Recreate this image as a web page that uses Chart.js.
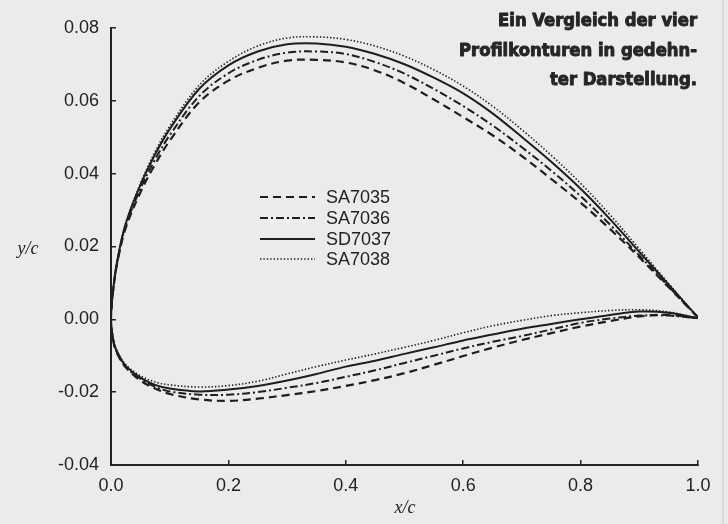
<!DOCTYPE html>
<html><head><meta charset="utf-8">
<script src="https://cdn.jsdelivr.net/npm/chart.js@4.4.0/dist/chart.umd.min.js"></script>
<style>
html,body{margin:0;padding:0;background:#ebebeb;}
canvas{display:block;}
</style></head><body>
<canvas id="c" width="728" height="524"></canvas>
<script>
// ---- data ----
const names = ["SA7035", "SA7036", "SD7037", "SA7038"];
// upper surface, trailing edge -> leading edge
const xUpper = [1.0, 0.95, 0.9, 0.85, 0.8, 0.75, 0.7, 0.65, 0.6, 0.55, 0.5, 0.45, 0.4, 0.35, 0.3, 0.25, 0.2, 0.15, 0.1, 0.075, 0.05, 0.025, 0.0125, 0.005, 0.0];
// lower surface, leading edge -> trailing edge
const xLower = [0.005, 0.0125, 0.025, 0.05, 0.075, 0.1, 0.15, 0.2, 0.25, 0.3, 0.35, 0.4, 0.45, 0.5, 0.55, 0.6, 0.65, 0.7, 0.75, 0.8, 0.85, 0.9, 0.95, 1.0];

const sa7035Upper = [0.0005, 0.0088, 0.0170, 0.0248, 0.0320, 0.0385, 0.0448, 0.0505, 0.0555, 0.0603, 0.0648, 0.0683, 0.0705, 0.0712, 0.0710, 0.0690, 0.0655, 0.0595, 0.0490, 0.0425, 0.0348, 0.0250, 0.0170, 0.0097, 0.0];
const sa7036Upper = [0.0005, 0.0090, 0.0175, 0.0260, 0.0338, 0.0408, 0.0472, 0.0532, 0.0585, 0.0632, 0.0674, 0.0706, 0.0728, 0.0735, 0.0732, 0.0712, 0.0675, 0.0612, 0.0505, 0.0438, 0.0358, 0.0255, 0.0172, 0.0098, 0.0];
const sd7037Upper = [0.0005, 0.0095, 0.0185, 0.0275, 0.0358, 0.0432, 0.0500, 0.0565, 0.0620, 0.0663, 0.0700, 0.0728, 0.0748, 0.0757, 0.0755, 0.0735, 0.0697, 0.0632, 0.0522, 0.0452, 0.0368, 0.0262, 0.0176, 0.0100, 0.0];
const sa7038Upper = [0.0005, 0.0098, 0.0193, 0.0287, 0.0373, 0.0450, 0.0520, 0.0585, 0.0640, 0.0685, 0.0722, 0.0750, 0.0768, 0.0775, 0.0772, 0.0750, 0.0708, 0.0642, 0.0530, 0.0460, 0.0372, 0.0264, 0.0177, 0.0100, 0.0];

const sa7035Lower = [-0.0068, -0.0100, -0.0132, -0.0168, -0.0190, -0.0205, -0.0220, -0.0224, -0.0218, -0.0208, -0.0197, -0.0183, -0.0167, -0.0148, -0.0125, -0.0101, -0.0078, -0.0057, -0.0038, -0.0020, -0.0005, 0.0008, 0.0012, 0.0003];
const sa7036Lower = [-0.0067, -0.0098, -0.0130, -0.0163, -0.0185, -0.0198, -0.0207, -0.0207, -0.0200, -0.0188, -0.0175, -0.0158, -0.0140, -0.0120, -0.0100, -0.0080, -0.0062, -0.0046, -0.0028, -0.0010, 0.0002, 0.0010, 0.0010, 0.0003];
const sd7037Lower = [-0.0066, -0.0096, -0.0128, -0.0160, -0.0180, -0.0190, -0.0198, -0.0193, -0.0183, -0.0168, -0.0150, -0.0130, -0.0114, -0.0095, -0.0077, -0.0058, -0.0042, -0.0026, -0.0013, 0.0000, 0.0012, 0.0021, 0.0018, 0.0003];
const sa7038Lower = [-0.0065, -0.0094, -0.0124, -0.0155, -0.0172, -0.0180, -0.0186, -0.0182, -0.0170, -0.0150, -0.0130, -0.0112, -0.0095, -0.0077, -0.0058, -0.0037, -0.0018, -0.0003, 0.0010, 0.0018, 0.0024, 0.0026, 0.0020, 0.0003];

const xTickLabels = ["0.0", "0.2", "0.4", "0.6", "0.8", "1.0"];
const yTickLabels = ["-0.04", "-0.02", "0.00", "0.02", "0.04", "0.06", "0.08"];
const titleLines = ["Ein Vergleich der vier", "Profilkonturen in gedehn-", "ter Darstellung."];

// ---- build ----
function contour(up, lo) {
  const pts = xUpper.map((x, i) => ({x: x, y: up[i]}));
  return pts.concat(xLower.map((x, i) => ({x: x, y: lo[i]})));
}
const INK = '#1e1e1e';
const styles = [
  {borderDash: [8, 5], borderWidth: 2.2},
  {borderDash: [8, 3, 2, 3], borderWidth: 2},
  {borderDash: [], borderWidth: 2},
  {borderDash: [1.4, 2], borderWidth: 1.6}
];
const uppers = [sa7035Upper, sa7036Upper, sd7037Upper, sa7038Upper];
const lowers = [sa7035Lower, sa7036Lower, sd7037Lower, sa7038Lower];
const datasets = names.map((n, i) => Object.assign({
  label: n,
  data: contour(uppers[i], lowers[i]),
  showLine: true,
  pointRadius: 0,
  borderColor: INK,
  tension: 0.35,
  fill: false
}, styles[i]));

const extras = {
  id: 'extras',
  afterDraw(chart) {
    const ctx = chart.ctx;
    ctx.save();
    // right edge stripe of the scan
    ctx.fillStyle = '#d9d9d9';
    ctx.fillRect(722, 0, 2, 524);
    // axis titles
    ctx.fillStyle = '#222';
    ctx.font = 'italic 18px "Liberation Serif", serif';
    ctx.textAlign = 'center';
    ctx.textBaseline = 'middle';
    ctx.fillText('y/c', 28, 249);
    ctx.fillText('x/c', 405, 508);
    // legend
    const lx0 = 260, lx1 = 315, tx = 326;
    const rows = [197, 218, 239, 259];
    chart.data.datasets.forEach((ds, i) => {
      ctx.save();
      ctx.strokeStyle = ds.borderColor;
      ctx.lineWidth = ds.borderWidth;
      ctx.setLineDash(ds.borderDash);
      ctx.beginPath();
      ctx.moveTo(lx0, rows[i]);
      ctx.lineTo(lx1, rows[i]);
      ctx.stroke();
      ctx.restore();
      ctx.fillStyle = '#222';
      ctx.font = '18px "Liberation Sans", Arial, sans-serif';
      ctx.textAlign = 'left';
      ctx.textBaseline = 'middle';
      ctx.fillText(ds.label, tx, rows[i] + 1);
    });
    // title block (right aligned, heavy condensed)
    ctx.font = 'bold 18px "DejaVu Sans Condensed", "Liberation Sans Narrow", sans-serif';
    ctx.fillStyle = '#262626';
    ctx.strokeStyle = '#262626';
    ctx.lineWidth = 0.9;
    ctx.lineJoin = 'round';
    const w2 = ctx.measureText(titleLines[1]).width;
    const sx = 238 / w2;
    const ys = [21, 51, 80];
    titleLines.forEach((t, i) => {
      ctx.save();
      ctx.translate(697, ys[i]);
      ctx.scale(sx, 1);
      ctx.textAlign = 'right';
      ctx.textBaseline = 'middle';
      ctx.fillText(t, 0, 0);
      ctx.strokeText(t, 0, 0);
      ctx.restore();
    });
    ctx.restore();
  }
};

const tickFont = {family: '"Liberation Sans", Arial, sans-serif', size: 18};
new Chart(document.getElementById('c'), {
  type: 'scatter',
  data: {datasets: datasets},
  options: {
    responsive: false,
    animation: false,
    layout: {padding: {left: 0, top: 26, right: 30, bottom: 0}},
    plugins: {legend: {display: false}, tooltip: {enabled: false}},
    scales: {
      x: {
        type: 'linear', min: 0, max: 1,
        afterFit(s) { s.height = 59; },
        ticks: {stepSize: 0.2, color: '#222', font: tickFont, padding: 15,
          callback: (v, i) => xTickLabels[i]},
        grid: {drawOnChartArea: false, drawTicks: true, tickLength: -5, color: '#222', lineWidth: 1.5},
        border: {display: true, color: '#222', width: 2}
      },
      y: {
        type: 'linear', min: -0.04, max: 0.08,
        afterFit(s) { s.width = 111; },
        ticks: {stepSize: 0.02, color: '#222', font: tickFont, padding: 17,
          callback: (v, i) => yTickLabels[i]},
        grid: {drawOnChartArea: false, drawTicks: true, tickLength: -5, color: '#222', lineWidth: 1.5},
        border: {display: true, color: '#222', width: 2}
      }
    }
  },
  plugins: [extras]
});
</script>
</body></html>
